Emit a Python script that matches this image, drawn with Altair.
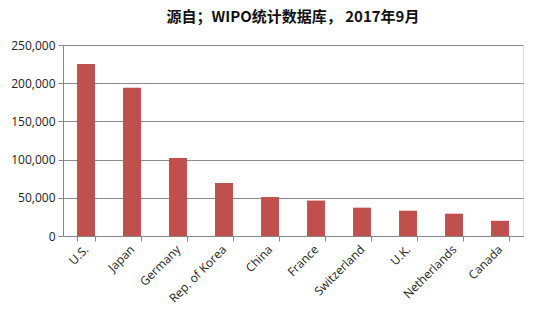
import altair as alt
import pandas as pd

countries = ["U.S.", "Japan", "Germany", "Rep. of Korea", "China", "France",
             "Switzerland", "U.K.", "Netherlands", "Canada"]
values = [225000, 194000, 102000, 69500, 51000, 46400, 37100, 33100, 29200, 19900]

df = pd.DataFrame({"country": countries, "value": values})

chart = alt.Chart(df).mark_bar(color="#C0504D").encode(
    x=alt.X("country:N", sort=countries, title=None,
            scale=alt.Scale(paddingInner=0.61, paddingOuter=0.305),
            axis=alt.Axis(labelAngle=-45, labelAlign="right", labelBaseline="middle",
                          tickBand="extent", tickSize=5, tickColor="#868686",
                          domainColor="#868686", labelFontSize=12, labelColor="#222",
                          labelFont="Open Sans", labelPadding=6, grid=False)),
    y=alt.Y("value:Q", title=None,
            scale=alt.Scale(domain=[0, 250000], nice=False),
            axis=alt.Axis(values=[0, 50000, 100000, 150000, 200000, 250000], format=",.0f",
                          tickSize=5, tickColor="#868686", domainColor="#868686",
                          gridColor="#8a8a8a", gridWidth=1, labelFontSize=12,
                          labelColor="#222", labelFont="Open Sans", labelPadding=3)),
).properties(
    width=460, height=191,
    autosize=alt.AutoSizeParams(type="none"),
    padding={"left": 63, "top": 45, "right": 15, "bottom": 85},
    title=alt.TitleParams("源自；WIPO统计数据库， 2017年9月", fontSize=15, fontWeight="bold",
                          font="Noto Sans CJK SC", color="#111", offset=14, anchor="middle"),
).configure_view(stroke=None).configure(background="white")

chart.save("out.html", embed_options={"renderer": "svg", "actions": False})
